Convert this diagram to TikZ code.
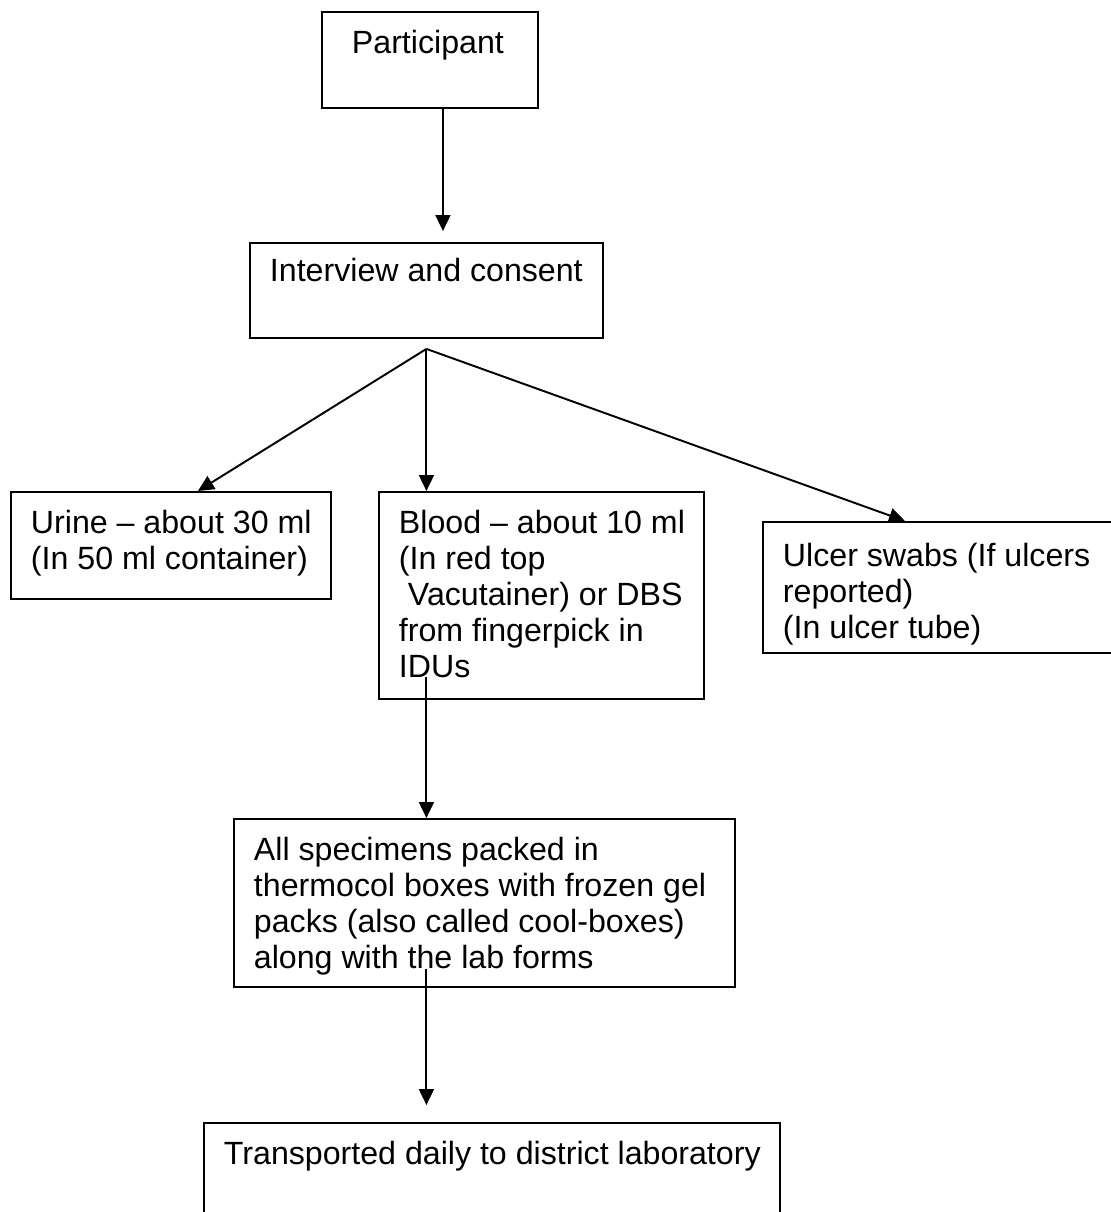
\documentclass[tikz,border=0pt]{standalone}
\usepackage{fontspec}
\setmainfont{Liberation Sans}
\usetikzlibrary{arrows.meta}

% text set at the top left of a box of fixed size
\newcommand{\boxtext}[4][0.36cm]{\parbox[c][#3][t]{#2}{\raggedright\leftskip=0.4cm\vspace*{#1}#4}}

\tikzset{
  box/.style={draw, line width=1.1pt, anchor=north west, inner sep=0pt,
    font=\fontsize{18.3}{20.5}\selectfont},
  arr/.style={line width=1.1pt, -{Triangle[width=0.3cm,length=0.32cm]}}
}

\begin{document}
\begin{tikzpicture}[x=0.02cm, y=-0.02cm]
        \useasboundingbox (0,0) rectangle (1110,1212);

        % Boxes, top to bottom
        \node[box] (part) at (321,11) {\boxtext{4.32cm}{1.92cm}{\hspace*{0.2cm}Participant}};
        \node[box] (intv) at (249,242) {\boxtext[0.3cm]{7.06cm}{1.9cm}{Interview and consent}};
        \node[box] (urine) at (10,491) {\boxtext{6.4cm}{2.14cm}{Urine – about 30 ml\\(In 50 ml container)}};
        \node[box] (blood) at (378,491) {\boxtext{6.5cm}{4.14cm}{Blood – about 10 ml\\(In red top\\\hspace*{0.28em}Vacutainer) or DBS\\from fingerpick in\\IDUs}};
        \node[box] (ulcer) at (762,521) {\boxtext[0.42cm]{7.04cm}{2.62cm}{Ulcer swabs (If ulcers\\reported)\\(In ulcer tube)}};
        \node[box] (pack) at (233,818) {\boxtext{10.02cm}{3.36cm}{All specimens packed in\\thermocol boxes with frozen gel\\packs (also called cool-boxes)\\along with the lab forms}};
        \node[box] (trans) at (203,1122) {\boxtext{11.52cm}{2.4cm}{Transported daily to district laboratory}};

        % Split point below the interview
        \coordinate (split) at ([yshift=-0.2cm]intv.south);

        % Arrows
        \draw[arr, shorten >=0.22cm] ([xshift=0.26cm]part.south) -- ([xshift=0.26cm]part.south |- intv.north);
        \draw[arr] (split) -- ([xshift=0.54cm]urine.north);
        \draw[arr] (split) -- (split |- blood.north);
        \draw[arr] (split) -- ([xshift=2.86cm]ulcer.north west);
        \draw[arr] ([yshift=0.46cm]split |- blood.south) -- (split |- pack.north);
        \draw[arr, shorten >=0.34cm] ([yshift=0.38cm]split |- pack.south) -- (split |- trans.north);
    \end{tikzpicture}
\end{document}
